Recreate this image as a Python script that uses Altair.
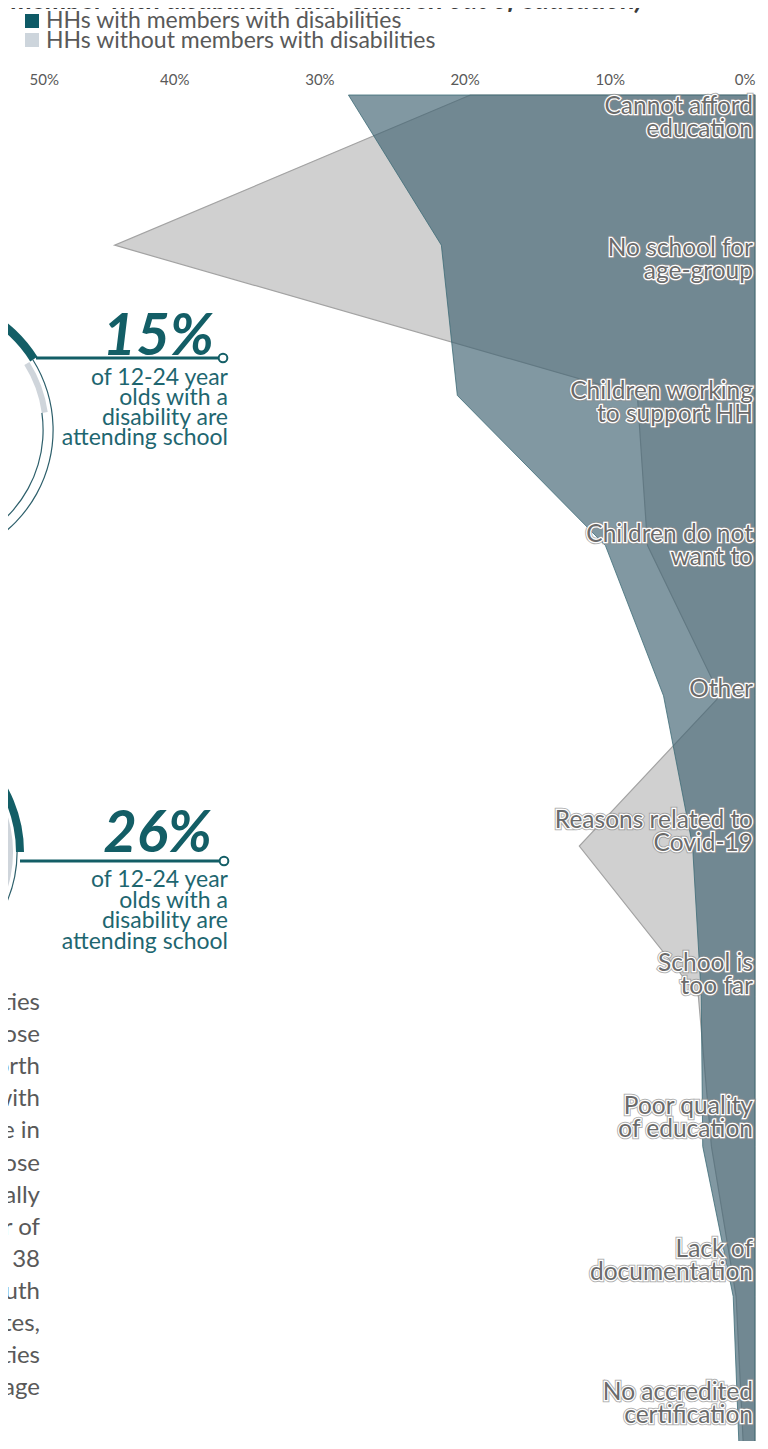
import altair as alt
import pandas as pd

# ---------------- data ----------------
categories = [
    "Cannot afford education", "No school for age-group", "Children working to support HH",
    "Children do not want to", "Other", "Reasons related to Covid-19", "School is too far",
    "Poor quality of education", "Lack of documentation", "No accredited certification",
]
category_labels = [
    "Cannot afford\neducation", "No school for\nage-group", "Children working\nto support HH",
    "Children do not\nwant to", "Other", "Reasons related to\nCovid-19", "School is\ntoo far",
    "Poor quality\nof education", "Lack of\ndocumentation", "No accredited\ncertification",
]
with_disabilities = [28.0, 21.6, 20.5, 10.3, 6.3, 4.3, 3.7, 3.6, 1.5, 1.1]
without_disabilities = [19.6, 44.1, 8.1, 7.4, 2.4, 12.1, 3.9, 3.0, 1.3, 0.8]
x_ticks = [0, 10, 20, 30, 40, 50]

legend_labels = ["HHs with members with disabilities", "HHs without members with disabilities"]
title_fragment = 'member with disabilities and "children out of education)'
callout_values = ["15%", "26%"]
callout_text = "of 12-24 year\nolds with a\ndisability are\nattending school"
paragraph_fragments = ["ties", "ose", "orth", "with", "e in", "ose", "ally", "r of",
                       "o 38", "uth", "tes,", "ties", "age"]
gauge1_angles = [1.01, 1.43]     # end of teal part, end of grey part (radians)
gauge2_angles = [1.5708, 3.1416]

# ---------------- style ----------------
FONT = "Lato"
TEAL = "#135e66"
TEAL_TXT = "#1e6670"
GREY_TXT = "#595959"
RING = "#2d5f6b"
GAUGE_GREY = "#cfd5db"
W, H = 726, 1346
X0, Y0 = 29, 95          # page position of the plot origin
LABEL_LH = 23
LABEL_STEP = 142.9       # px per category in the label scale


def px(x):
    return x - X0


def py(y):
    return y - Y0


df = pd.DataFrame({
    "idx": list(range(len(categories))),
    "category": categories,
    "label": category_labels,
    "nlines": [s.count("\n") + 1 for s in category_labels],
    "with": with_disabilities,
    "without": without_disabilities,
})
one = pd.DataFrame({"t": [""]})

xscale = alt.Scale(domain=[0, 50], reverse=True, nice=False)
xaxis = alt.Axis(orient="top", values=x_ticks, labelExpr="datum.value + '%'", domain=False,
                 ticks=False, grid=False, labelFont=FONT, labelFontSize=15,
                 labelColor=GREY_TXT, labelPadding=8, title=None)
yscale = alt.Scale(domain=[0, H / 150.2], reverse=True, nice=False, zero=False)
label_scale = alt.Scale(domain=[-23 / LABEL_STEP, -23 / LABEL_STEP + H / LABEL_STEP],
                        reverse=True, nice=False, zero=False)

grey_area = alt.Chart(df).mark_area(
    orient="horizontal", fill="#d0d0d0", stroke="#a3a3a3", strokeWidth=1.2
).encode(
    x=alt.X("without:Q", scale=xscale, axis=xaxis),
    y=alt.Y("idx:Q", scale=yscale, axis=None),
)

teal_area = alt.Chart(df).mark_area(
    orient="horizontal", fill="#3f6272", fillOpacity=0.66, stroke="#3d6b77",
    strokeWidth=1, strokeOpacity=0.8
).encode(
    x=alt.X("with:Q", scale=xscale),
    y=alt.Y("idx:Q", scale=yscale, axis=None),
)


def label_layer(**kw):
    return alt.Chart(df).transform_calculate(
        first_line=f"datum.idx - (datum.nlines - 1) * {LABEL_LH / 2 / LABEL_STEP}"
    ).mark_text(
        align="right", baseline="middle", lineBreak="\n", lineHeight=LABEL_LH,
        font=FONT, fontSize=24.5, dx=-2, **kw
    ).encode(
        x=alt.X(datum=0, type="quantitative"),
        y=alt.Y("first_line:Q", scale=label_scale, axis=None),
        text="label:N",
    )


lab_outer = label_layer(fill="#8f8f8f", stroke="#8f8f8f", strokeWidth=4.5, opacity=0.7)
lab_halo = label_layer(fill="white", stroke="white", strokeWidth=2.6)
lab_text = label_layer(fill="#6b6b6b")


def text_at(txt, x, y, **kw):
    return alt.Chart(pd.DataFrame({"t": [txt]})).mark_text(**kw).encode(
        x=alt.value(x), y=alt.value(y), text="t:N")


def arc_at(cx, cy, r0, r1, t0, t1, color):
    return alt.Chart(one).mark_arc(innerRadius=r0, outerRadius=r1, fill=color).encode(
        x=alt.value(cx), y=alt.value(cy), theta=alt.value(t0), theta2=alt.value(t1))


def rule_at(x1, x2, y, color, w):
    return alt.Chart(one).mark_rule(color=color, strokeWidth=w).encode(
        x=alt.value(x1), x2=alt.value(x2), y=alt.value(y))


def dot_at(x, y):
    return alt.Chart(one).mark_point(shape="circle", filled=True, fill="white", stroke=TEAL,
                                     strokeWidth=2, size=75, opacity=1).encode(
        x=alt.value(x), y=alt.value(y))


def rect_at(x1, y1, x2, y2, color):
    return alt.Chart(one).mark_rect(fill=color).encode(
        x=alt.value(x1), x2=alt.value(x2), y=alt.value(y1), y2=alt.value(y2))


# title fragment (cut by the top edge) and legend
title = text_at(title_fragment, px(11), py(9), align="left", baseline="alphabetic",
                font=FONT, fontSize=27, fontWeight="bold", fontStyle="italic", color="#3a3a3a")
leg_sq1 = rect_at(px(25), py(14), px(39), py(28), "#0e5a66")
leg_sq2 = rect_at(px(25), py(33), px(39), py(47), "#cdd5dc")
leg_txt = text_at("\n".join(legend_labels), px(46), py(21), align="left", baseline="middle",
                  lineBreak="\n", lineHeight=19.5, font=FONT, fontSize=23, color=GREY_TXT)

# gauge 1 (15%)
c1x, c1y = px(-79), py(430)
g1 = [
    arc_at(c1x, c1y, 129, 137.5, 0.0, gauge1_angles[0], TEAL),
    arc_at(c1x, c1y, 122, 128, gauge1_angles[0], gauge1_angles[1], GAUGE_GREY),
    arc_at(c1x, c1y, 131.5, 132.7, gauge1_angles[0], 3.1416, RING),
    arc_at(c1x, c1y, 121.5, 122.7, gauge1_angles[1], 3.1416, RING),
]
# gauge 2 (26%)
c2x, c2y = px(-110), py(852)
g2 = [
    arc_at(c2x, c2y, 100, 123, 0.0, gauge2_angles[1], GAUGE_GREY),
    arc_at(c2x, c2y, 126, 134, 0.0, gauge2_angles[0], TEAL),
    arc_at(c2x, c2y, 126.5, 127.7, gauge2_angles[0], gauge2_angles[1], RING),
]

call1 = [
    rule_at(px(36), px(219), py(358), TEAL, 3),
    dot_at(px(223), py(358)),
    text_at(callout_values[0], px(214), py(355), align="right", baseline="alphabetic",
            font=FONT, fontSize=58, fontWeight="bold", fontStyle="italic", color=TEAL),
    text_at(callout_text, px(228), py(378), align="right", baseline="middle", lineBreak="\n",
            lineHeight=20, font=FONT, fontSize=23, color=TEAL_TXT),
]
call2 = [
    rule_at(px(20), px(219), py(861), TEAL, 3),
    dot_at(px(224), py(861)),
    text_at(callout_values[1], px(212), py(852), align="right", baseline="alphabetic",
            font=FONT, fontSize=58, fontWeight="bold", fontStyle="italic", color=TEAL),
    text_at(callout_text, px(228), py(880), align="right", baseline="middle", lineBreak="\n",
            lineHeight=20.7, font=FONT, fontSize=23, color=TEAL_TXT),
]

paragraph = text_at("\n".join(paragraph_fragments), px(40), py(1003), align="right",
                    baseline="middle", lineBreak="\n", lineHeight=32.1, font=FONT,
                    fontSize=24, color=GREY_TXT)

chart = alt.layer(
    grey_area, teal_area, lab_outer, lab_halo, lab_text,
    title, leg_sq1, leg_sq2, leg_txt, *g1, *g2, *call1, *call2, paragraph,
).resolve_scale(y="independent").properties(
    width=W, height=H,
    padding={"left": 21, "top": 87, "right": 5, "bottom": 0},
    autosize=alt.AutoSizeParams(type="none"),
).configure_view(stroke=None)

chart.save("out.html", embed_options={"renderer": "svg", "actions": False})
